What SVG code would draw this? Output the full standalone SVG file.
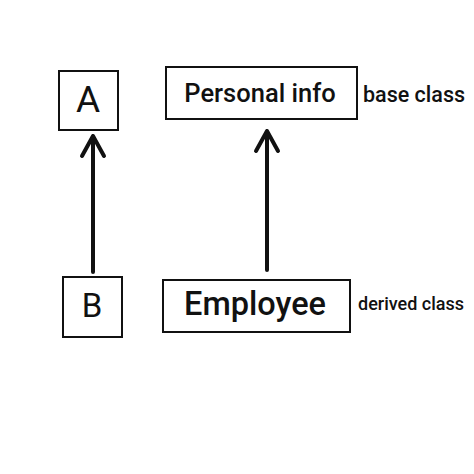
<svg xmlns="http://www.w3.org/2000/svg" width="474" height="474" viewBox="0 0 474 474">
<style>
.box{fill:#fff;stroke:#111;stroke-width:2}
.t{font-family:Roboto,"Liberation Sans",sans-serif;fill:#111;font-weight:500}
.r{font-weight:400}
.c{fill:none;stroke:#111;stroke-width:4;stroke-linecap:round;stroke-linejoin:round}
</style>
<rect width="474" height="474" fill="#fff"/>
<g id="A"><rect class="box" x="59" y="71" width="59" height="59"/><text class="t r" x="88" y="112" font-size="37" text-anchor="middle">A</text></g>
<g id="B"><rect class="box" x="63" y="277" width="59" height="60"/><text class="t r" x="92" y="317" font-size="33" text-anchor="middle">B</text></g>
<g id="personal"><rect class="box" x="166" y="67" width="191" height="52"/><text class="t" x="260" y="102" font-size="25.5" text-anchor="middle">Personal info</text></g>
<g id="employee"><rect class="box" x="163" y="280" width="187" height="52"/><text class="t" x="255" y="315" font-size="32.5" text-anchor="middle">Employee</text></g>
<g id="labels"><text class="t" x="363" y="102" font-size="21.5">base class</text><text class="t" x="358" y="310" font-size="18">derived class</text></g>
<g id="connectors">
<path class="c" d="M93 272V136M82 156L93 136L104 156"/>
<path class="c" d="M267 270V131M256 151L267 131L278 151"/>
</g>
</svg>
